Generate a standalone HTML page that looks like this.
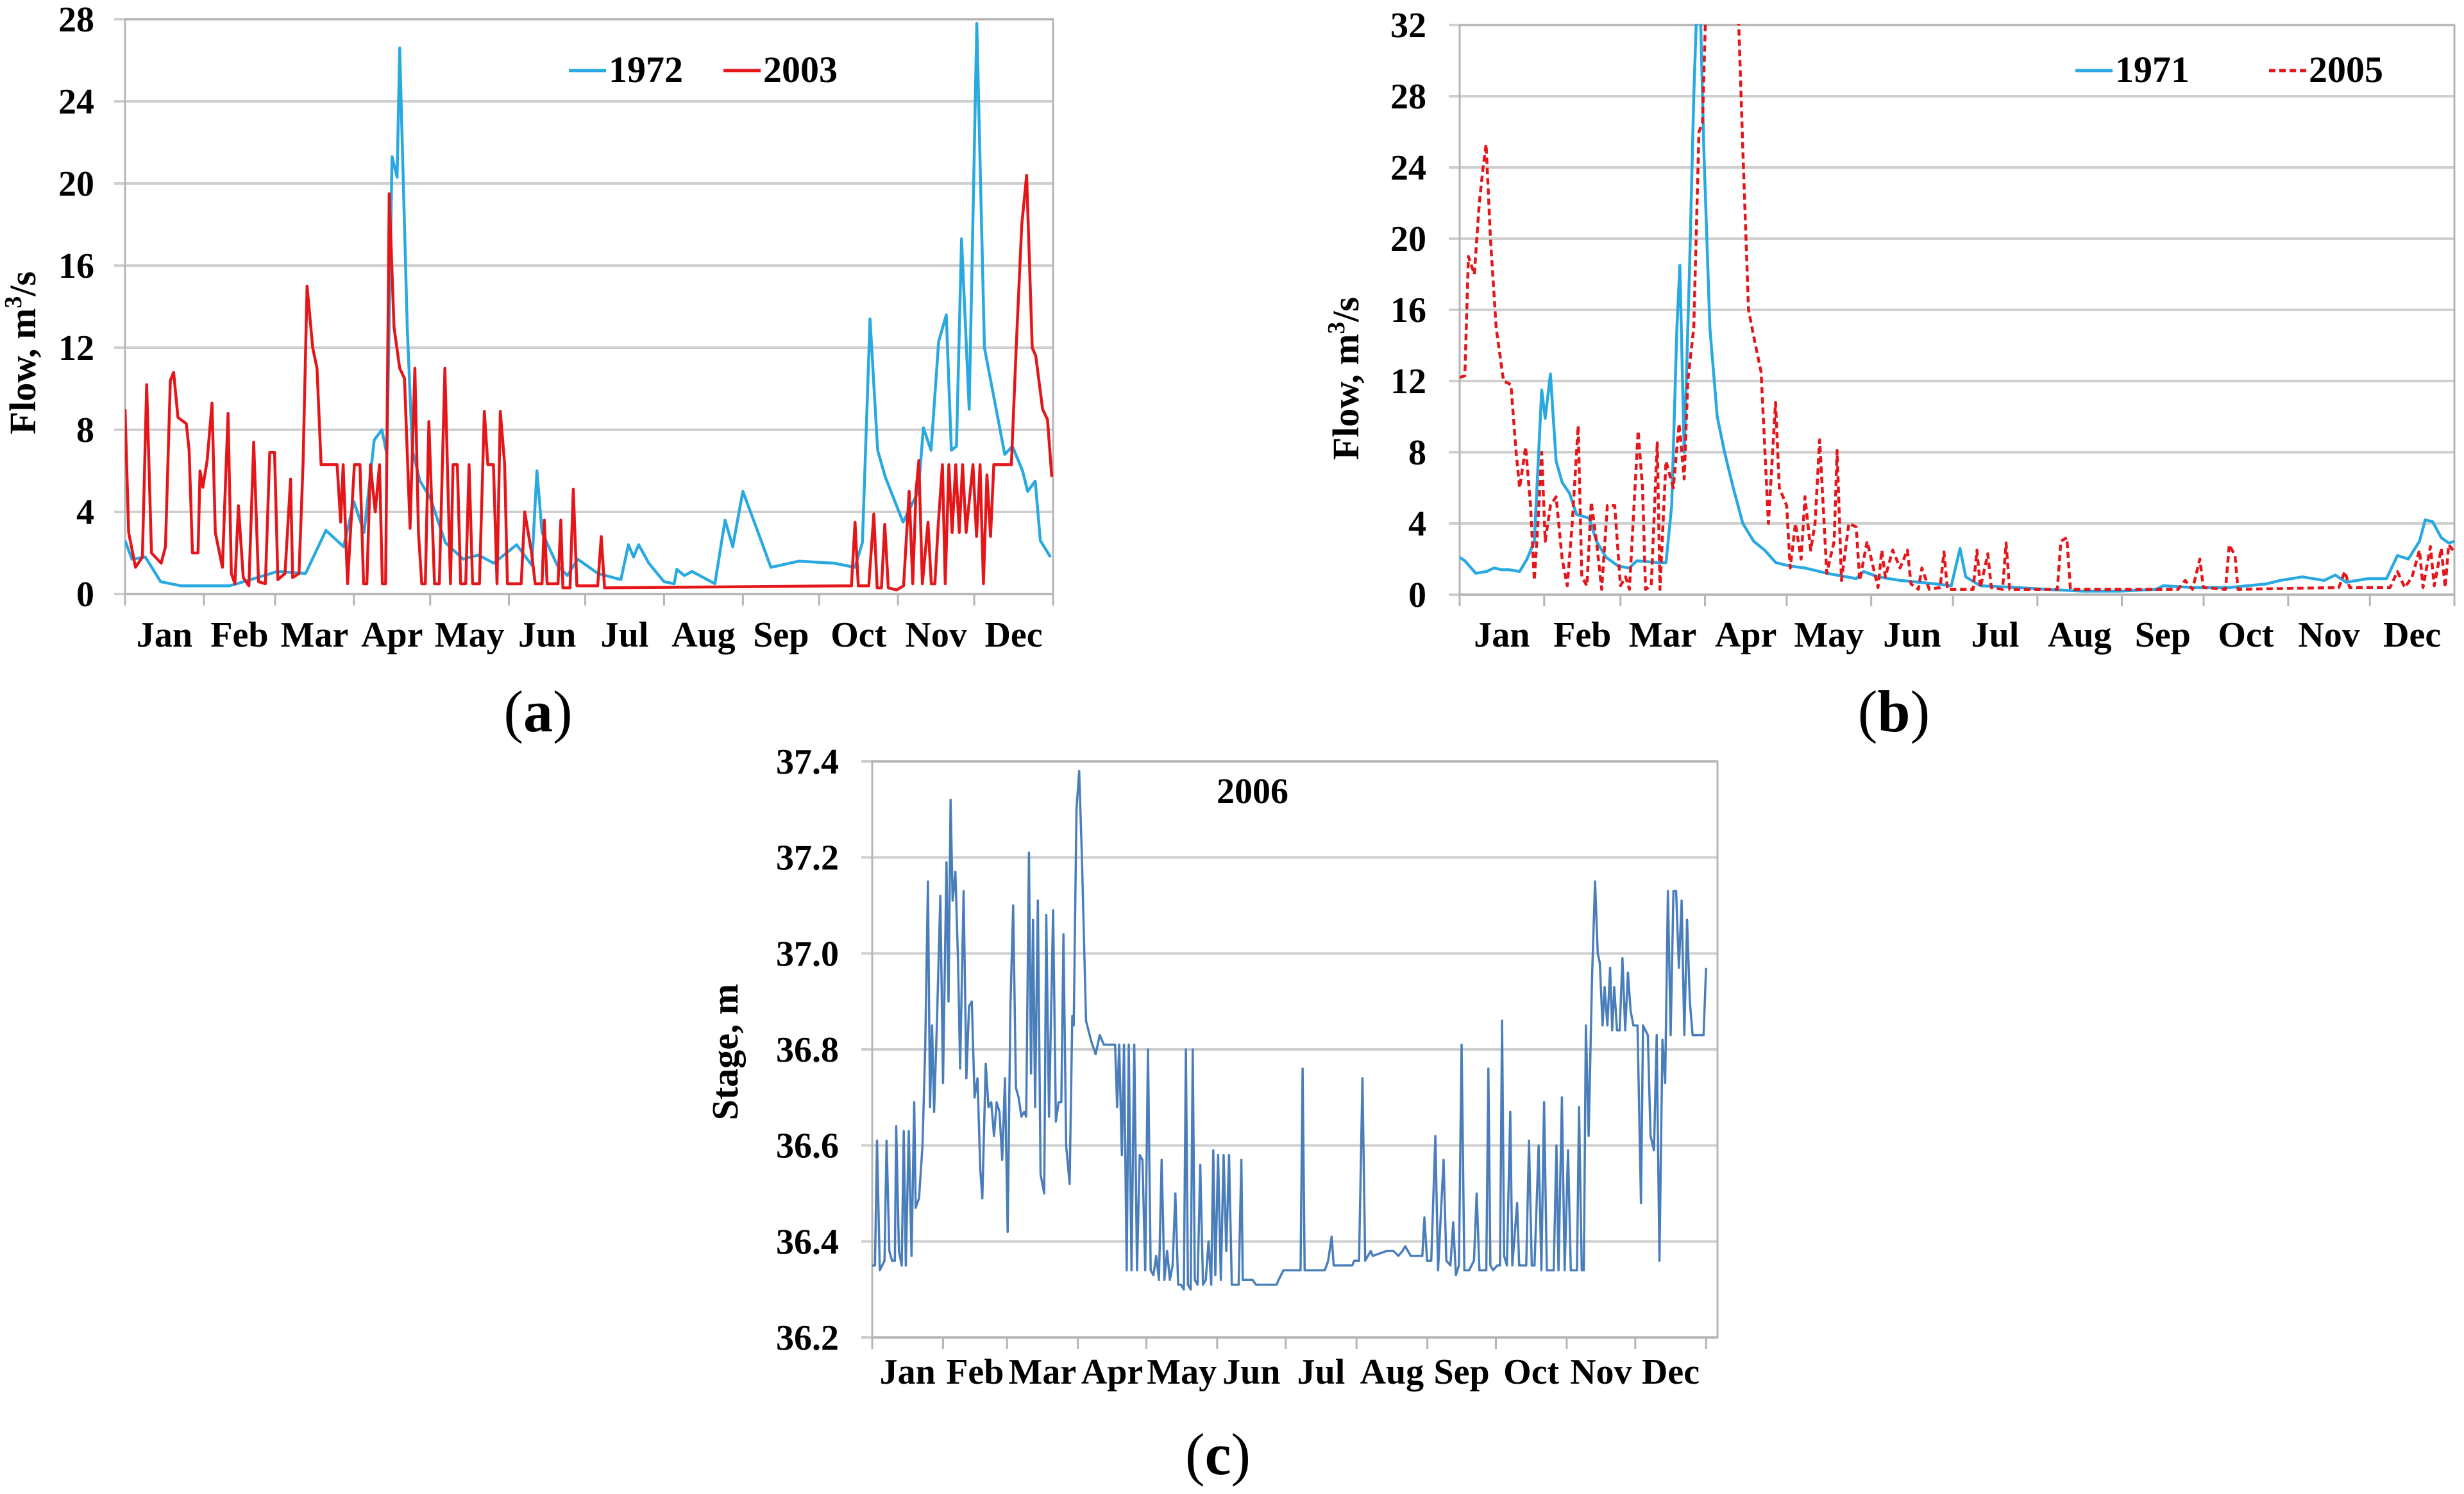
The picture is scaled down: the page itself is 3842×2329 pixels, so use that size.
<!DOCTYPE html>
<html><head><meta charset="utf-8"><style>
html,body{margin:0;padding:0;background:#fff;}
svg{display:block;}
svg text{font-family:"Liberation Serif","Times New Roman",serif;font-weight:bold;fill:#000;}
</style></head><body>
<svg id="fig" width="3842" height="2329" viewBox="0 0 3842 2329" xmlns="http://www.w3.org/2000/svg" font-family="Liberation Serif, serif">
<defs>
<clipPath id="clipA"><rect x="195" y="28" width="1450" height="900"/></clipPath>
<clipPath id="clipB"><rect x="2276" y="37" width="1555" height="892"/></clipPath>
<clipPath id="clipC"><rect x="1360" y="1185" width="1320" height="902"/></clipPath>
</defs>
<g id="panelA"></g>
<g id="panelB"></g>
<g id="panelC"></g>
</svg>
<script>
var months = ["Jan","Feb","Mar","Apr","May","Jun","Jul","Aug","Sep","Oct","Nov","Dec"];
var monthStarts = [0,31,59,90,120,151,181,212,243,273,304,334,365];

var ticksA = [0,4,8,12,16,20,24,28];
var ticksB = [0,4,8,12,16,20,24,28,32];
var ticksC = [36.2,36.4,36.6,36.8,37.0,37.2,37.4];

var daysA1972 = [0,2.7,8,14,22,41,44,52,60,71,79,86,90,94,98,101,103,105,107,108,111,113,116,120,126,133,139,145,154,160,162,164,170,174,178,186,195,198,200,202,206,212,216,217,220,223,232,236,239,243,249,254,265,279,287,290,293,296,299,306,312,314,317,320,323,325,327,329,332,335,338,346,349,353,355,358,360,362,364];
var flowA1972 = [2.6,1.7,1.8,0.6,0.4,0.4,0.5,0.8,1.1,1.0,3.1,2.3,4.5,3.0,7.5,8.0,6.8,21.3,20.3,26.6,13,7,5.5,4.7,2.5,1.7,1.9,1.5,2.4,1.4,6.0,3,1.4,0.9,1.7,1.0,0.7,2.4,1.8,2.4,1.5,0.6,0.5,1.2,0.9,1.1,0.5,3.6,2.3,5.0,3,1.3,1.6,1.5,1.3,2.5,13.4,7,5.7,3.5,5,8.1,7,12.3,13.6,7,7.2,17.3,9,27.8,12,6.8,7.2,6,5,5.5,2.6,2.2,1.8];

var daysA2003 = [0,1.4,4.1,6.8,8.5,10.4,14.2,15.9,17.8,19.1,20.8,24.1,25.2,26.5,28.7,29.5,30.6,32.3,34.2,35.5,38.3,40.5,41.8,43.2,44.6,46.5,48.7,50.6,52.5,55.2,56.9,58.8,60.1,62.9,65.1,65.9,68.4,70,71.6,73.8,75.5,77.1,83.4,84.8,85.8,87.5,90.2,92.4,93.8,95.1,96.5,98.4,100.1,101.2,102.5,103.9,105.8,108,109.9,112.1,114,115.4,116.7,118.1,119.5,121.7,123.6,125.8,128,129,130.7,132,134,135.3,136.7,139.4,141.3,142.7,144.9,146.3,147.6,149.3,150.4,155.8,157.2,159.9,161.3,164,164.9,166,170.3,171.4,172.2,175,176.3,177.7,185.9,187.3,188.6,285.7,287.1,288.4,292.5,294.5,295.8,297.5,298.8,300.2,303.5,306.2,308.4,309.8,311.1,312.2,313.6,315.8,317.1,318.5,319.9,321.5,322.6,324,325.3,326.7,328.1,329.4,330.8,333.5,334.9,336.3,337.6,339,340.4,341.7,348.6,350.5,352.7,354.6,356.8,358.2,360.9,362.8,364.5];
var flowA2003 = [9,3,1.3,1.8,10.2,2,1.5,2.3,10.4,10.8,8.6,8.3,7,2,2,6,5.2,6.5,9.3,3,1.3,8.8,1,0.5,4.3,0.8,0.4,7.4,0.6,0.5,6.9,6.9,0.7,1,5.6,0.8,1.0,6.3,15,12,11,6.3,6.3,3.5,6.3,0.5,6.3,6.3,0.5,0.5,6.3,4,6.3,0.5,0.5,19.5,13,11,10.5,3.2,11,3,0.5,0.5,8.4,0.5,0.5,11,0.5,6.3,6.3,0.5,0.5,6.3,0.5,0.5,8.9,6.3,6.3,0.5,8.9,6.3,0.5,0.5,4,2,0.5,0.5,3.6,0.5,0.5,3.6,0.3,0.3,5.1,0.4,0.4,2.8,0.3,0.4,3.5,0.4,0.4,3.9,0.3,0.3,3.4,0.3,0.2,0.4,5,0.5,5,6.5,0.5,3.5,0.5,0.5,3.5,6.3,0.5,6.3,3,6.3,3,6.3,3,6.3,2.8,6.3,0.5,5.8,2.8,6.3,6.3,12,18,20.4,12,11.6,9,8.5,5.7];

var daysB1971 = [0,1.9,5.9,9.9,12.6,15.3,18,22,24.7,27.4,30.1,31.4,33.3,35.4,37.6,40.3,42.9,47.5,50.2,53.7,58.2,62.3,65,73,75.7,77.8,79.7,80.8,82.4,84.3,85.9,87,88.3,89.6,91.8,94.5,97.2,100.4,103.9,107.9,111.9,116,121.3,126.7,134.7,145.5,148.2,153.5,161.6,175,180.4,183.6,185.7,191.1,204.5,215.3,228.7,242.1,255.5,258.2,268.9,282.4,295.8,301.1,309.2,317.2,321.3,325.3,333.4,340.1,344.1,348.1,352.2,354.3,357,360.2,362.9,365];
var flowB1971 = [2.1,1.9,1.2,1.3,1.5,1.4,1.4,1.3,2,3,11.5,9.9,12.4,7.5,6.3,5.7,4.5,4.3,3,2.1,1.6,1.5,1.9,1.8,1.8,5,15,18.5,8,18,28,33,33,25,15,10,8,6,4,3,2.5,1.8,1.6,1.5,1.2,0.9,1.3,1.0,0.8,0.6,0.5,2.6,1.0,0.5,0.4,0.3,0.2,0.2,0.3,0.5,0.4,0.4,0.6,0.8,1.0,0.8,1.1,0.7,0.9,0.9,2.2,2,3,4.2,4.1,3.2,2.9,3.0];

var daysB2005 = [0,1.9,3.2,5.4,7.2,8.6,9.7,11.3,13.4,16.1,18.8,20.7,22,24.2,26,27.4,28.7,30.1,31.4,33.3,35.4,37.6,39.5,41.3,43.5,44.8,46.7,48.3,50.2,52.1,54.2,56.9,59,60.9,62.3,65.5,67.1,68.2,70.3,72.5,73.5,75.7,78.4,80.5,82.4,83.7,85.9,87.8,89.1,90.5,91.8,102,103.9,106,107.9,110.6,113.3,115.9,117.3,120,121.3,123.2,125.3,126.7,128.8,130.4,132.1,134.7,137.4,138.5,140.1,142.8,145.5,146.8,149.5,153.5,154.9,156.2,158.9,161.6,164.3,165.6,168.3,169.6,172.3,176.3,177.7,179,188.4,189.8,191.1,193.8,195.1,199.2,200.5,201.8,219.3,220.6,222.8,224.1,263.6,266.2,268.9,271.6,272.9,281,282.4,284.5,285.6,322.6,324.8,326.6,341.4,344.1,346.8,349.5,352.2,353.5,356.2,357.6,360.2,361.6,362.9,365];
var flowB2005 = [12.2,12.3,19,18,22,24,25.3,20,15,12,11.8,8,6,8.3,5,0.8,4,8,3,5,5.5,2,0.5,4,9.5,1,0.5,5.2,3,0.3,5,5,0.5,1,0.3,9.2,6,0.3,0.5,8.6,0.3,7.5,6,9.6,6.5,12,15,26,26.5,34,34,34,25,16,14.5,12.5,4,10.8,6,5,1.5,4,2,5.5,2.5,4,8.7,1.2,3,8.1,0.8,4,3.8,0.8,3,0.4,2.5,1,2.5,1.5,2.5,0.6,0.3,1.5,0.3,0.4,2.4,0.3,0.3,2.5,0.4,2.3,0.4,0.3,2.9,0.3,0.3,3,3.2,0.3,0.3,0.8,0.3,2,0.4,0.3,2.8,2.2,0.3,0.4,1.3,0.4,0.4,1.3,0.4,1.0,2.5,0.4,2.7,0.5,2.6,0.4,2.8,2.4];

var daysC2006 = [0,1.2,2.1,3.3,5.4,6.3,7.5,8.7,9.9,10.5,11.7,12.9,13.8,14.7,16,17.2,18.4,19,20.5,22,23.2,24.4,25.3,26.2,27.1,28.3,29.8,31,32.5,33.4,34.3,35.2,36.4,37.6,38.5,40,41.2,42.4,43.6,44.8,46.1,47.3,48.2,49.7,50.9,52.1,53.3,54.5,55.7,56.9,58.1,59.3,60.5,61.7,62.9,64.1,65.3,66.5,67.4,68.6,69.5,70.4,71.3,72.5,73.7,75.3,76.2,77.4,79.2,80.4,81.6,82.8,83.7,84.9,86.4,87.6,88.2,89.4,90.6,91.8,93.6,95.7,97.8,99.6,101.4,106.3,107.2,108.1,109.3,110.2,111.4,112.3,113.5,114.7,115.9,117.1,118.3,119.5,120.7,121.9,123.1,124.3,125.5,126.7,127.9,129.1,130.3,131.5,132.7,133.9,135.1,136.4,137.3,138.2,139.4,140.3,141.2,142.4,143.6,144.8,146,147.2,148.4,149.3,150.2,151.4,152.6,153.8,155,156.2,157.4,158.9,160.4,161.6,162.2,166.5,168,177,177.9,180,187.5,188.4,189.3,198.1,199.6,201.1,202,210.1,211,213.1,214.6,215.8,218.2,219.1,225.1,228.2,230.3,232.1,233.3,235.7,240.8,241.7,242.9,244.7,246.5,247.7,250.1,251.3,253.1,254.3,255.5,256.8,258,259.2,261.3,263.4,264.6,265.8,268.8,269.7,270.6,271.8,273.6,274.8,275.7,276.6,277.8,279.3,280.2,282.3,283.2,286.3,287.5,288.7,289.9,291.7,292.9,294.1,295.3,298.3,299.5,300.4,301.9,303.1,304.6,305.8,308.5,309.4,310.6,311.5,312.4,313.6,315.1,316.4,317.6,318.5,319.7,320.6,321.8,323,323.9,324.8,326,327.2,328.4,329.6,330.8,332,333.2,335,336.5,337.4,339.5,340.7,342.2,343.4,344.6,345.9,347.1,348.3,349.5,350.7,351.9,353.1,354.3,355.5,356.7,357.9,359.1,363.9,365];
var stageC2006 = [36.35,36.35,36.61,36.34,36.36,36.61,36.38,36.36,36.36,36.64,36.38,36.35,36.63,36.35,36.63,36.37,36.69,36.47,36.49,36.6,36.8,37.15,36.68,36.85,36.67,36.85,37.12,36.73,37.19,36.9,37.32,37.11,37.17,36.98,36.76,37.13,36.74,36.89,36.9,36.7,36.74,36.55,36.49,36.77,36.68,36.69,36.62,36.69,36.67,36.57,36.74,36.42,36.89,37.1,36.72,36.7,36.66,36.67,36.66,37.21,36.75,37.07,36.68,37.11,36.54,36.5,37.08,36.66,37.09,36.65,36.69,36.69,37.04,36.6,36.52,36.87,36.85,37.3,37.38,37.2,36.86,36.82,36.79,36.83,36.81,36.81,36.68,36.81,36.58,36.81,36.34,36.81,36.34,36.81,36.34,36.58,36.57,36.34,36.8,36.34,36.33,36.37,36.32,36.57,36.32,36.38,36.32,36.35,36.5,36.31,36.31,36.3,36.8,36.31,36.3,36.8,36.32,36.31,36.56,36.31,36.32,36.4,36.31,36.59,36.33,36.58,36.32,36.58,36.38,36.58,36.31,36.31,36.31,36.57,36.32,36.32,36.31,36.31,36.32,36.34,36.34,36.76,36.34,36.34,36.36,36.41,36.35,36.35,36.36,36.36,36.74,36.36,36.38,36.37,36.38,36.38,36.37,36.38,36.39,36.37,36.37,36.45,36.36,36.36,36.62,36.34,36.57,36.36,36.35,36.44,36.33,36.35,36.81,36.34,36.34,36.36,36.5,36.34,36.34,36.76,36.35,36.34,36.35,36.35,36.86,36.37,36.35,36.67,36.35,36.48,36.35,36.35,36.61,36.35,36.35,36.6,36.34,36.69,36.34,36.34,36.6,36.34,36.7,36.34,36.59,36.34,36.34,36.68,36.34,36.34,36.85,36.62,36.95,37.15,37.0,36.98,36.85,36.93,36.85,36.97,36.84,36.93,36.84,36.84,36.99,36.84,36.96,36.88,36.85,36.85,36.48,36.85,36.83,36.62,36.59,36.83,36.36,36.82,36.73,37.13,36.83,37.13,37.13,36.97,37.11,36.83,37.07,36.9,36.83,36.83,36.97];

var NS = "http://www.w3.org/2000/svg";
function mk(parent, tag, attrs, txt){
  var e = document.createElementNS(NS, tag);
  for (var k in attrs) e.setAttribute(k, attrs[k]);
  if (txt !== undefined) e.textContent = txt;
  parent.appendChild(e);
  return e;
}
var FF = "Liberation Serif, serif";

function drawPanel(g, cfg){
  var xS = function(d){ return cfg.left + d/cfg.xMax*(cfg.right-cfg.left); };
  var yS = function(v){ return cfg.bottom - (v-cfg.yMin)/(cfg.yMaxV-cfg.yMin)*(cfg.bottom-cfg.top); };
  cfg.ticks.forEach(function(t){
    var y = yS(t);
    var gl = mk(g,"line",{x1:cfg.left-17,x2:cfg.right,y1:y,y2:y,stroke:"#cfcfcf","stroke-width":4});
    
    
    var tl = mk(g,"text",{x:cfg.labelX,y:y+19,"text-anchor":"end","font-size":56,"font-family":FF,"font-weight":"bold"}, cfg.fmt(t));
    
    
  });
  var fr = mk(g,"rect",{x:cfg.left,y:cfg.top,width:cfg.right-cfg.left,height:cfg.bottom-cfg.top,fill:"none",stroke:"#b5b5b5","stroke-width":3});
  
  
  monthStarts.forEach(function(d){
    var x = xS(d);
    var tk = mk(g,"line",{x1:x,x2:x,y1:cfg.bottom,y2:cfg.bottom+18,stroke:"#b5b5b5","stroke-width":3});
    
    
  });
  months.forEach(function(m,i){
    var x = (xS(monthStarts[i])+xS(monthStarts[i+1]))/2;
    var ml = mk(g,"text",{x:x,y:cfg.monthY,"text-anchor":"middle","font-size":56,"font-family":FF,"font-weight":"bold"}, m);
    
    
  });
  cfg.series.forEach(function(s){
    var pts = s.days.map(function(d,i){ return xS(d).toFixed(1)+","+yS(s.vals[i]).toFixed(1); }).join(" ");
    var attrs = {points:pts,fill:"none",stroke:s.color,"stroke-width":s.w,"stroke-linejoin":"round","clip-path":"url(#"+cfg.clip+")"};
    if (s.dash) attrs["stroke-dasharray"] = s.dash;
    var pl = mk(g,"polyline",attrs);
    
    
  });
  var yt = mk(g,"text",{x:0,y:0,"text-anchor":"middle","font-size":58,"font-family":FF,"font-weight":"bold",transform:"translate("+cfg.ytX+","+cfg.ytY+") rotate(-90)"});
  
  
  if (cfg.flow){
    yt.appendChild(document.createTextNode("Flow, m"));
    mk(yt,"tspan",{"font-size":38,dy:-22},"3");
    mk(yt,"tspan",{dy:22},"/s");
  } else {
    yt.textContent = cfg.ytitle;
  }
  var cap = mk(g,"text",{x:cfg.capX,y:cfg.capY,"text-anchor":"middle","font-size":92,"font-family":FF,"font-weight":"bold"});
  
  
  mk(cap,"tspan",{"font-weight":"normal"},"(");
  mk(cap,"tspan",{},cfg.cap);
  mk(cap,"tspan",{"font-weight":"normal"},")");
}

var gA = document.getElementById("panelA");
drawPanel(gA,{left:195,right:1642,top:30,bottom:926,xMax:365,yMin:0,yMaxV:28,ticks:ticksA,fmt:function(t){return String(t);},
  labelX:147,monthY:1008,clip:"clipA",flow:true,ytX:55,ytY:550,capX:839,capY:1140,cap:"a",
  series:[{name:"series-1972",days:daysA1972,vals:flowA1972,color:"#29a9e1",w:4.5},
          {name:"series-2003",days:daysA2003,vals:flowA2003,color:"#e5161a",w:4.5}]});

var gB = document.getElementById("panelB");
drawPanel(gB,{left:2276,right:3827,top:39,bottom:927,xMax:365,yMin:0,yMaxV:32,ticks:ticksB,fmt:function(t){return String(t);},
  labelX:2224,monthY:1008,clip:"clipB",flow:true,ytX:2118,ytY:590,capX:2953,capY:1140,cap:"b",
  series:[{name:"series-1971",days:daysB1971,vals:flowB1971,color:"#29a9e1",w:4.5},
          {name:"series-2005",days:daysB2005,vals:flowB2005,color:"#e5161a",w:4.5,dash:"10,6"}]});

var gC = document.getElementById("panelC");
drawPanel(gC,{left:1360,right:2678,top:1187,bottom:2085,xMax:370,yMin:36.2,yMaxV:37.4,ticks:ticksC,fmt:function(t){return t.toFixed(1);},
  labelX:1308,monthY:2157,clip:"clipC",flow:false,ytitle:"Stage, m",ytX:1150,ytY:1640,capX:1899,capY:2298,cap:"c",
  series:[{name:"series-2006",days:daysC2006,vals:stageC2006,color:"#4a7ebb",w:3.5}]});

function legend(g, x, y, label, color, dash, name){
  var grp = mk(g,"g",{});
  
  
  var a = {x1:x,x2:x+58,y1:y-18,y2:y-18,stroke:color,"stroke-width":5};
  if (dash) a["stroke-dasharray"] = dash;
  mk(grp,"line",a);
  mk(grp,"text",{x:x+62,y:y,"font-size":58,"font-family":FF,"font-weight":"bold"},label);
}
legend(gA,887,128,"1972","#29a9e1",null,"legend-entry-1972");
legend(gA,1128,128,"2003","#e5161a",null,"legend-entry-2003");
legend(gB,3236,128,"1971","#29a9e1",null,"legend-entry-1971");
legend(gB,3538,128,"2005","#e5161a","10,6","legend-entry-2005");

var title = mk(gC,"text",{x:1953,y:1252,"text-anchor":"middle","font-size":56,"font-family":FF,"font-weight":"bold"},"2006");


</script>
</body></html>
